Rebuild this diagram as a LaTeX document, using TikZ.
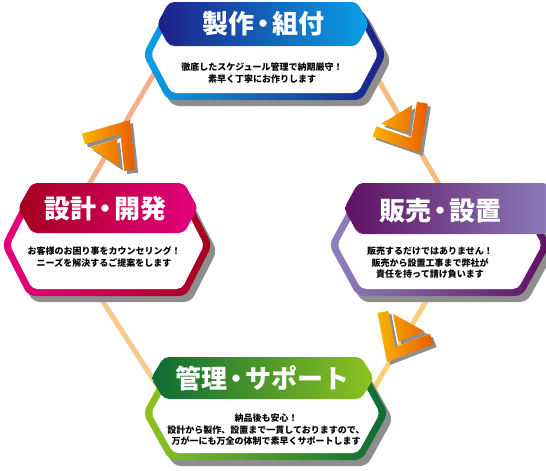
\documentclass[tikz,border=0pt]{standalone}
\usepackage{fontspec}
\newfontfamily\jpfont{Noto Sans CJK JP}
\usetikzlibrary{calc}
\definecolor{makedark}    {HTML}{1D2088}
\definecolor{makelight}   {HTML}{0AA0E6}
\definecolor{designdark}  {HTML}{A5001E}
\definecolor{designlight} {HTML}{E4007F}
\definecolor{salesdark}   {HTML}{5F1062}
\definecolor{saleslight}  {HTML}{8E82BE}
\definecolor{supportdark} {HTML}{0B6B35}
\definecolor{supportlight}{HTML}{8FC31F}
\definecolor{chevlight}   {HTML}{F9B400}
\definecolor{chevdark}    {HTML}{E85C00}
\definecolor{shadowgray}  {HTML}{8E8E8E}
\definecolor{linkA}       {HTML}{F4B08A}
\definecolor{linkB}       {HTML}{F3BD80}
\definecolor{linkC}       {HTML}{F9CF7A}
\definecolor{linkD}       {HTML}{F6CA8E}

\tikzset{
  title/.style={text=white, inner sep=0pt,
    font=\jpfont\bfseries\fontsize{26}{26}\selectfont},
  body/.style={align=center, inner sep=0pt,
    font=\jpfont\bfseries\fontsize{9}{11.5}\selectfont},
  link/.style={line width=5pt},
  head/.style={rounded corners=5pt},
}

% narrow middle dot for the titles
\newcommand\tdot{\kern-4pt・\kern-4pt}

% hexagon: left x, right x, top y, bottom y, corner inset
\newcommand\hexpath[5]{(#1,{(#3+#4)/2}) -- (#1+#5,#3) -- (#2-#5,#3)
  -- (#2,{(#3+#4)/2}) -- (#2-#5,#4) -- (#1+#5,#4) -- cycle}

% framed hexagon with shadow
\newcommand\unitframe[7]{%
  \pgfmathsetmacro\hh{(#4-#3)/2}
  \pgfmathsetmacro\ed{sqrt(#5*#5+\hh*\hh)/\hh*7}
  \pgfmathsetmacro\di{#5*(\hh-7)/\hh}
  \fill[shadowgray, rounded corners=7pt, shift={(5,6)}] \hexpath{#1}{#2}{#3}{#4}{#5};
  \shade[rounded corners=7pt, left color=#6, right color=#7] \hexpath{#1}{#2}{#3}{#4}{#5};
  \fill[white, rounded corners=5pt] \hexpath{#1+\ed}{#2-\ed}{#3+7}{#4-7}{\di};
}

\newcommand\chevronpath{(0,0) -- (-38.3,32.1) -- (-45.4,23.7) -- (-17.1,0)
  -- (-45.4,-23.7) -- (-38.3,-32.1) -- cycle
  (-23.3,0) -- (-45,18.2) -- (-45,-18.2) -- cycle}

\begin{document}
\begin{tikzpicture}[x=1pt, y=-1pt]
  \path[use as bounding box, clip] (0,0) rectangle (546,471);

  % ring of connectors
  \coordinate (make-w)    at (164,57);
  \coordinate (make-e)    at (365,57);
  \coordinate (design-n)  at (81,198);
  \coordinate (design-s)  at (96,291);
  \coordinate (sales-n)   at (447,198);
  \coordinate (sales-s)   at (434,288);
  \coordinate (support-w) at (164,396);
  \coordinate (support-e) at (370,395);
  \draw[link, linkA] (design-n) -- (make-w);
  \draw[link, linkB] (make-e) -- (sales-n);
  \draw[link, linkC] (sales-s) -- (support-e);
  \draw[link, linkD] (support-w) -- (design-s);

  % units
  \unitframe{143}{386}{9}{100}{24}{makelight}{makedark}
  \shade[head, left color=makedark, right color=makelight] \hexpath{157}{369}{2}{46}{12};
  \unitframe{2}{212}{194}{296}{26}{designlight}{designdark}
  \shade[head, left color=designdark, right color=designlight] \hexpath{18}{198}{183}{233}{14};
  \unitframe{329}{550}{194}{296}{28}{saleslight}{salesdark}
  \shade[head, left color=salesdark, right color=saleslight] \hexpath{344}{562}{183}{234}{14};
  \unitframe{143}{388}{366}{460}{26}{supportlight}{supportdark}
  \shade[head, left color=supportdark, right color=supportlight] \hexpath{151}{374}{357}{399}{13};

  \node[title] (make)    at (263,24)  {製作\tdot 組付};
  \node[title] (design)  at (105,209) {設計\tdot 開発};
  \node[title] (sales)   at (440,211) {販売\tdot 設置};
  \node[title] (support) at (262,378) {管理\tdot サポート};

  \node[body] (make-text)    at (262,73)  {徹底したスケジュール管理で納期厳守！\\素早く丁寧にお作りします};
  \node[body] (design-text)  at (104,257) {お客様のお困り事をカウンセリング！\\ニーズを解決するご提案をします};
  \node[body] (sales-text)   at (430,263) {販売するだけではありません！\\販売から設置工事まで弊社が\\責任を持って請け負います};
  \node[body] (support-text) at (266,430) {納品後も安心！\\設計から製作、設置まで一貫しておりますので、\\万が一にも万全の体制で素早くサポートします};

  % flow arrows
  \foreach \x/\y/\a in {130/120/56, 420/153/-59, 387/362/-119} {
    \fill[shadowgray, shift={(\x+3,\y+3)}, rotate=\a] \chevronpath;
    \shade[left color=chevlight, right color=chevdark, shift={(\x,\y)}, rotate=\a] \chevronpath;
  }
\end{tikzpicture}
\end{document}
